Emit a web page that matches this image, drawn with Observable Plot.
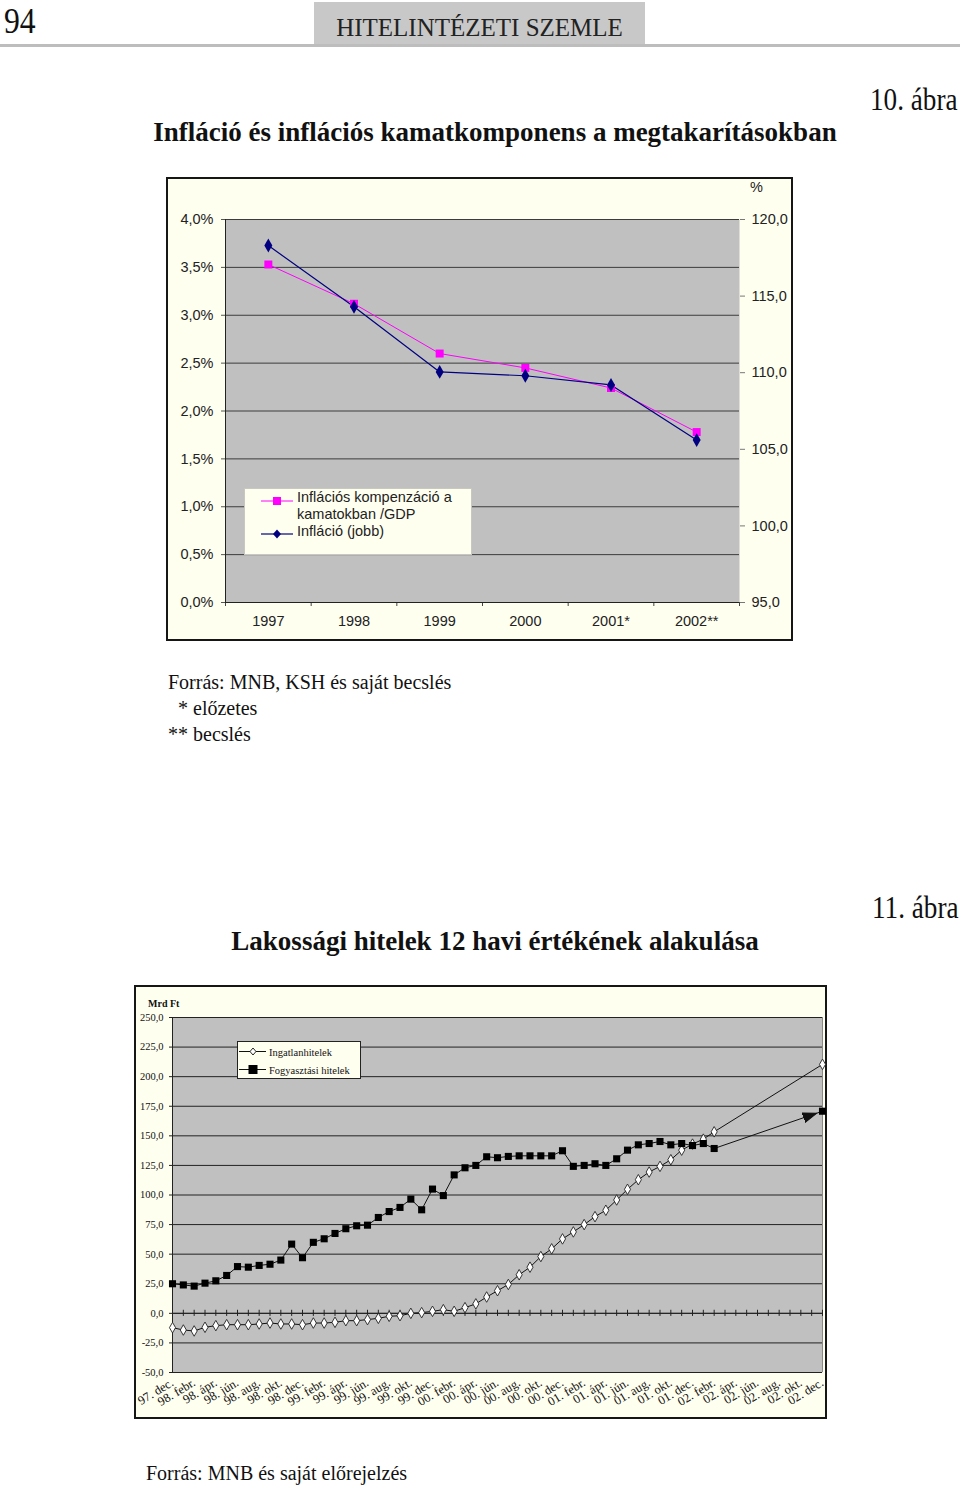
<!DOCTYPE html>
<html>
<head>
<meta charset="utf-8">
<script src="https://cdn.jsdelivr.net/npm/d3@7"></script>
<script src="https://cdn.jsdelivr.net/npm/@observablehq/plot@0.6"></script>
<style>
  html, body { margin: 0; padding: 0; }
  body { width: 960px; height: 1485px; position: relative; background: #fff; font-family: "Liberation Serif", serif; color: #111; overflow: hidden; }
  .abs { position: absolute; white-space: nowrap; }
  .chartbox { position: absolute; background: #fffff0; border: 2px solid #161616; }
  .chartbox svg { display: block; }
</style>
</head>
<body>
<!-- page header -->
<div class="abs" style="left:4px;top:2px;font-size:36px;line-height:38px;transform:scaleX(0.88);transform-origin:left top;">94</div>
<div class="abs" style="left:314px;top:2px;width:331px;height:42px;background:#c8c8c8;"></div>
<div class="abs" style="left:314px;top:15px;width:331px;text-align:center;font-size:25px;line-height:25px;color:#222;">HITELINTÉZETI SZEMLE</div>
<div class="abs" style="left:0;top:44px;width:960px;height:3px;background:#bdbdbd;"></div>

<!-- figure 10 -->
<div class="abs" style="left:870px;top:83px;font-size:32px;line-height:32px;transform:scaleX(0.85);transform-origin:left top;">10. ábra</div>
<div class="abs" style="left:0;width:990px;text-align:center;top:119px;font-size:27px;line-height:27px;font-weight:bold;">Infláció és inflációs kamatkomponens a megtakarításokban</div>
<div id="chart1" class="chartbox" style="left:166px;top:177px;width:623px;height:460px;"></div>
<div class="abs" style="left:750px;top:179px;font-family:'Liberation Sans',Arial,sans-serif;font-size:14.5px;line-height:17px;color:#222;">%</div>
<div class="abs" style="left:244px;top:488px;width:226px;height:65px;background:#fffff0;border:1px solid #c8c8c0;"></div>
<svg class="abs" style="left:255px;top:490px;" width="45" height="55">
  <line x1="6" x2="38" y1="11" y2="11" stroke="#ff00ff" stroke-width="1"/>
  <rect x="18" y="7" width="8" height="8" fill="#ff00ff"/>
  <line x1="6" x2="38" y1="44" y2="44" stroke="#000080" stroke-width="1.2"/>
  <path d="M22,39.5 L26,44 L22,48.5 L18,44 Z" fill="#000080"/>
</svg>
<div class="abs" style="left:297px;top:489px;font-family:'Liberation Sans',Arial,sans-serif;font-size:14.5px;line-height:17px;color:#222;">Inflációs kompenzáció a<br>kamatokban /GDP<br>Infláció (jobb)</div>

<div class="abs" style="left:168px;top:669px;font-size:20px;line-height:26px;">Forrás: MNB, KSH és saját becslés<br>&nbsp;&nbsp;* előzetes<br>** becslés</div>

<!-- figure 11 -->
<div class="abs" style="left:872px;top:891px;font-size:32px;line-height:32px;transform:scaleX(0.85);transform-origin:left top;">11. ábra</div>
<div class="abs" style="left:0;width:990px;text-align:center;top:928px;font-size:27px;line-height:27px;font-weight:bold;">Lakossági hitelek 12 havi értékének alakulása</div>
<div id="chart2" class="chartbox" style="left:134px;top:985px;width:689px;height:430px;"></div>
<div class="abs" style="left:148px;top:998px;font-size:10px;line-height:12px;font-weight:bold;">Mrd Ft</div>
<div class="abs" style="left:237px;top:1041px;width:122px;height:36px;background:#fffff0;border:1px solid #222;"></div>
<svg class="abs" style="left:236px;top:1042px;" width="34" height="36">
  <line x1="3" x2="30" y1="9.5" y2="9.5" stroke="#111" stroke-width="1"/>
  <path d="M17,6 L20,9.5 L17,13 L14,9.5 Z" fill="#fff" stroke="#111" stroke-width="0.9"/>
  <line x1="3" x2="30" y1="27.5" y2="27.5" stroke="#111" stroke-width="1"/>
  <rect x="12.5" y="23" width="9" height="9" fill="#000"/>
</svg>
<div class="abs" style="left:269px;top:1044px;font-size:10.5px;line-height:18px;">Ingatlanhitelek<br>Fogyasztási hitelek</div>

<div class="abs" style="left:146px;top:1460px;font-size:20px;line-height:26px;">Forrás: MNB és saját előrejelzés</div>

<script>
// ---------- Data: figure 10 ----------
const evek = ["1997", "1998", "1999", "2000", "2001*", "2002**"];
const kompenzacio = [3.53, 3.12, 2.60, 2.45, 2.24, 1.78];       // % of GDP (left axis)
const inflacio = [118.3, 114.3, 110.05, 109.8, 109.2, 105.6];   // index (right axis)
const balTickek = [0, 0.5, 1, 1.5, 2, 2.5, 3, 3.5, 4];
const jobbTickek = [95, 100, 105, 110, 115, 120];

// ---------- Data: figure 11 ----------
const honapCimkek = ["97. dec.", "98. febr.", "98. ápr.", "98. jún.", "98. aug.", "98. okt.", "98. dec.",
  "99. febr.", "99. ápr.", "99. jún.", "99. aug.", "99. okt.", "99. dec.",
  "00. febr.", "00. ápr.", "00. jún.", "00. aug.", "00. okt.", "00. dec.",
  "01. febr.", "01. ápr.", "01. jún.", "01. aug.", "01. okt.", "01. dec.",
  "02. febr.", "02. ápr.", "02. jún.", "02. aug.", "02. okt.", "02. dec."];
const ingatlan = [-12.1, -14.1, -14.9, -11.8, -10.4, -9.6, -9.6, -9.6, -9.0, -8.2, -9.0, -9.0, -9.6,
  -8.2, -8.2, -7.6, -6.2, -6.2, -5.3, -4.2, -2.5, -2.0, 0.0, 0.6, 1.7, 3.1, 1.7, 4.8, 8.0,
  13.8, 19.1, 24.4, 32.6, 39.0, 48.0, 54.5, 62.9, 68.8, 75.0, 81.7, 87.1, 95.8, 104.8, 112.9,
  119.4, 124.2, 129.8, 137.9, 143.0, 147.2, 153.4,
  null, null, null, null, null, null, null, null, null, 210.4];
const fogyasztasi = [25.0, 24.0, 23.0, 25.5, 27.5, 32.0, 39.5, 39.0, 40.5, 41.5, 45.0, 58.5, 47.0,
  60.0, 63.0, 67.5, 71.5, 74.0, 74.5, 81.0, 86.0, 89.5, 96.5, 87.5, 105.0, 99.5, 117.0, 123.0, 125.0,
  132.3, 131.5, 132.6, 133.1, 133.1, 133.1, 133.1, 137.4, 124.2, 125.0, 126.4, 125.0, 130.6, 137.9,
  142.4, 143.5, 145.2, 142.4, 143.5, 141.8, 143.5, 139.3,
  null, null, null, null, null, null, null, null, null, 170.8];
const yTickek2 = [-50, -25, 0, 25, 50, 75, 100, 125, 150, 175, 200, 225, 250];

const vesszo = (d) => d.toFixed(1).replace(".", ",");

// ---------- Chart 1 ----------
const toLeft = (v) => (v - 95) / 25 * 4;
const fromLeft = (d) => Math.round(d / 4 * 25 + 95);
const rows1 = evek.map((ev, i) => ({i, ev, komp: kompenzacio[i], infl: toLeft(inflacio[i])}));

const chart1 = Plot.plot({
  width: 623, height: 460,
  marginLeft: 57, marginRight: 52, marginTop: 40, marginBottom: 37,
  style: {background: "transparent", fontFamily: "'Liberation Sans', Arial, sans-serif", fontSize: "14.5px", color: "#222", overflow: "visible"},
  x: {domain: [-0.5, 5.5]},
  y: {domain: [0, 4]},
  marks: [
    Plot.frame({fill: "#c0c0c0", stroke: null}),
    Plot.gridY(balTickek.slice(1), {stroke: "#3c3c3c", strokeOpacity: 1}),
    Plot.axisY(balTickek, {anchor: "left", tickSize: 4, tickPadding: 8, stroke: "#555", tickFormat: (d) => vesszo(d) + "%", label: null}),
    Plot.axisY(jobbTickek.map(toLeft), {anchor: "right", tickSize: 5, tickPadding: 7, stroke: "#777", tickFormat: (d) => vesszo(fromLeft(d)), label: null}),
    Plot.axisX(evek.map((_, i) => i), {tickSize: 0, tickPadding: 13, tickFormat: (d) => evek[d], label: null}),
    Plot.axisX(d3.range(-0.5, 6, 1), {tickSize: 4, stroke: "#444", tickFormat: () => "", label: null}),
    Plot.ruleX([-0.5], {stroke: "#222"}),
    Plot.ruleY([0], {stroke: "#222"}),
    Plot.line(rows1, {x: "i", y: "komp", stroke: "#ff00ff", strokeWidth: 1}),
    Plot.line(rows1, {x: "i", y: "infl", stroke: "#000080", strokeWidth: 1.2}),
    Plot.dot(rows1, {x: "i", y: "komp", symbol: "square", fill: "#ff00ff", r: 4.5}),
    Plot.dot(rows1, {x: "i", y: "infl", symbol: "diamond", fill: "#000080", r: 4.2})
  ]
});
document.getElementById("chart1").appendChild(chart1);

// ---------- Chart 2 ----------
const rows2 = d3.range(ingatlan.length).map((i) => ({i, ing: ingatlan[i], fogy: fogyasztasi[i]}));
const ingRows = rows2.filter((d) => d.ing != null);
const fogyRows = rows2.filter((d) => d.fogy != null);
const fogyTeny = fogyRows.slice(0, -1);
const fogyElore = fogyRows.slice(-2);

const nyilMarker = (color) => {
  const m = d3.create("svg:marker")
    .attr("viewBox", "0 -7 22 14")
    .attr("markerWidth", 22)
    .attr("markerHeight", 14)
    .attr("markerUnits", "userSpaceOnUse")
    .attr("refX", 20)
    .attr("refY", 0)
    .attr("orient", "auto");
  m.append("path").attr("d", "M0,-5L14,0L0,5Z").attr("fill", color);
  return m.node();
};

const chart2 = Plot.plot({
  width: 689, height: 430,
  marginLeft: 36, marginRight: 3, marginTop: 30, marginBottom: 45,
  style: {background: "transparent", fontFamily: "'Liberation Serif', serif", fontSize: "10.5px", color: "#111", overflow: "visible"},
  x: {domain: [0, 60]},
  y: {domain: [-50, 250]},
  marks: [
    Plot.frame({fill: "#c0c0c0", stroke: null}),
    Plot.ruleX([60], {stroke: "#8a8a8a"}),
    Plot.gridY(yTickek2, {stroke: "#222", strokeOpacity: 1}),
    Plot.axisY(yTickek2, {tickSize: 3, tickPadding: 6, stroke: "#222", tickFormat: vesszo, label: null}),
    Plot.axisX(d3.range(0, 61, 2), {tickSize: 0, tickPadding: 9, tickRotate: -31, fontSize: 12.5, tickFormat: (d) => honapCimkek[d / 2], label: null}),
    Plot.ruleX([0], {stroke: "#222"}),
    Plot.ruleY([0], {stroke: "#222"}),
    Plot.ruleX(d3.range(61), {y1: -2.6, y2: 2.6, stroke: "#222"}),
    Plot.line(ingRows, {x: "i", y: "ing", stroke: "#111", strokeWidth: 1}),
    Plot.line(fogyTeny, {x: "i", y: "fogy", stroke: "#111", strokeWidth: 1}),
    Plot.line(fogyElore, {x: "i", y: "fogy", stroke: "#111", strokeWidth: 1, markerEnd: nyilMarker}),
    Plot.dot(ingRows, {x: "i", y: "ing", symbol: "diamond", fill: "#fff", stroke: "#222", strokeWidth: 0.9, r: 3.2}),
    Plot.dot(fogyRows, {x: "i", y: "fogy", symbol: "square", fill: "#000", r: 4})
  ]
});
document.getElementById("chart2").appendChild(chart2);
</script>
</body>
</html>
